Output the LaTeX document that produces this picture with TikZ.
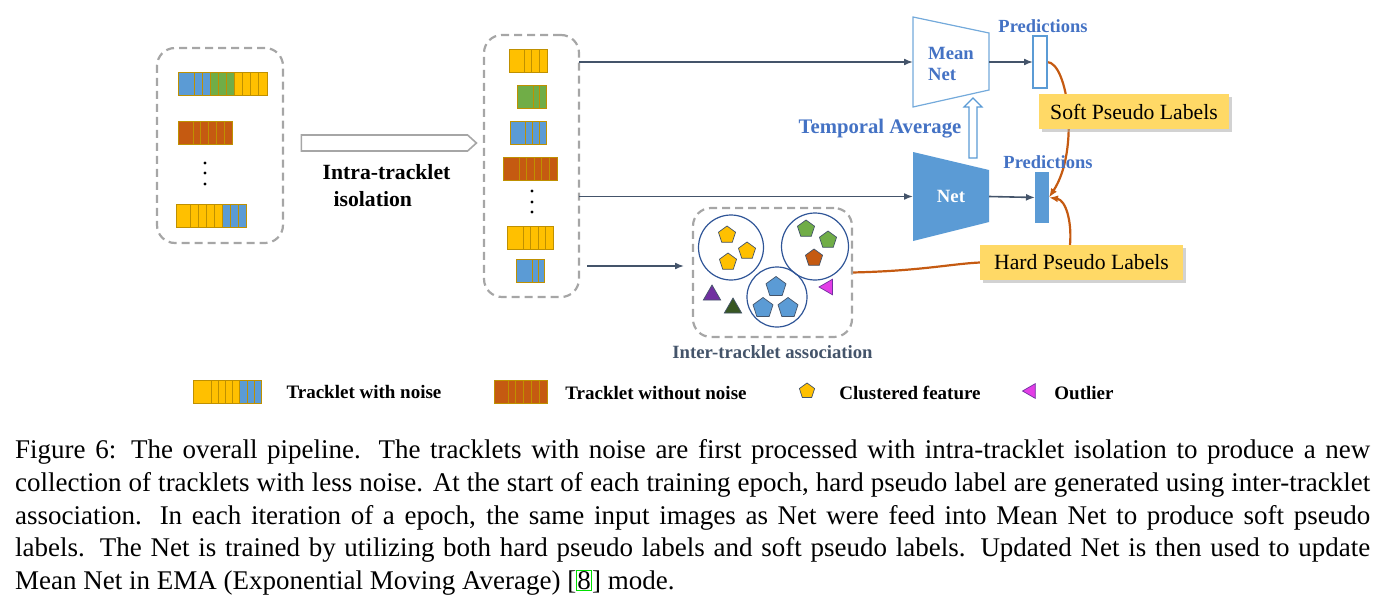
\documentclass[tikz,border=0pt]{standalone}
\usepackage{fontspec}
\setmainfont{Liberation Serif}
\usepackage{xcolor}
\usepackage{tikz}
\usetikzlibrary{positioning, arrows.meta, backgrounds, shadows, shapes.geometric, shapes.arrows}

\definecolor{grayline}{HTML}{A6A6A6}
\definecolor{slate}{HTML}{44546A}
\definecolor{nblue}{HTML}{5B9BD5}
\definecolor{tblue}{HTML}{4472C4}
\definecolor{dblue}{HTML}{2F5597}
\definecolor{corange}{HTML}{C55A11}
\definecolor{cy}{HTML}{FFC000}
\definecolor{cg}{HTML}{70AD47}
\definecolor{cb}{HTML}{5B9BD5}
\definecolor{co}{HTML}{C55A11}
\definecolor{celledge}{HTML}{BF9000}
\definecolor{lblfill}{HTML}{FFD966}
\definecolor{cpurple}{HTML}{7030A0}
\definecolor{cdgreen}{HTML}{385723}
\definecolor{cmagenta}{HTML}{E33DE6}
\definecolor{linkgreen}{HTML}{00E000}

\begin{document}
\begin{tikzpicture}[
    x=1pt, y=-1pt,
    >={Latex[length=9pt, width=7pt]},
    setbox/.style={
        rectangle,
        draw=grayline,
        line width=2.2pt,
        dash pattern=on 8pt off 5pt,
        rounded corners=18pt,
        inner sep=0pt, outer sep=0pt
    },
    cell/.style={draw=celledge, line width=0.8pt},
    flowline/.style={->, line width=1.6pt, slate},
    lblline/.style={line width=2.2pt, corange},
    netbox/.style={minimum width=76pt, inner sep=0pt, outer sep=0pt, align=left,
        font=\fontsize{18.7}{21}\selectfont\bfseries},
    predbox/.style={rectangle, minimum width=14pt, inner sep=0pt, outer sep=0pt, line width=1.2pt},
    bluetext/.style={text=tblue, font=\fontsize{18.5}{21}\selectfont\bfseries},
    labelbox/.style={
        rectangle,
        fill=lblfill,
        minimum height=35pt,
        font=\fontsize{21.7}{26}\selectfont,
        drop shadow={shadow xshift=3pt, shadow yshift=-3pt, fill=black!35}
    },
    clusterring/.style={circle, draw=dblue, line width=1.2pt, inner sep=0pt},
    feat/.style={regular polygon, regular polygon sides=5, minimum size=18pt, inner sep=0pt,
        draw=slate, line width=0.7pt},
    tri/.style={regular polygon, regular polygon sides=3, minimum size=20pt, inner sep=0pt,
        draw=slate, line width=0.7pt},
    legtext/.style={font=\fontsize{19}{22}\selectfont\bfseries},
    captext/.style={anchor=base west, inner sep=0pt, font=\fontsize{27}{33}\selectfont}
]
    \useasboundingbox (0,0) rectangle (1381,602);

    % Tracklet sets
    \node[setbox, minimum width=126pt, minimum height=195pt] (rawset) at (220,145.5) {};
    \node[setbox, minimum width=95pt, minimum height=262pt] (cleanset) at (531.5,166) {};

    \foreach \xo/\yo/\ww/\tw/\cols in {
        178/72/16/8.1/{cb,cb,cb,cg,cg,cg,cy,cy,cy,cy},
        178/121/15/7.8/{co,co,co,co,co,co},
        176/204/14/8/{cy,cy,cy,cy,cy,cb,cb,cb},
        509/49/15/7.7/{cy,cy,cy,cy},
        517/85/16/6.5/{cg,cg,cg},
        510/121/15/7/{cb,cb,cb,cb},
        503/157/16/7.6/{co,co,co,co,co,co},
        507/226/16/7.5/{cy,cy,cy,cy,cy},
        516/259/16/6/{cb,cb,cb},
        193/380/18/7.2/{cy,cy,cy,cy,cy,cb,cb,cb},
        494/380/14/7.8/{co,co,co,co,co,co}}{
        \foreach \c [count=\i from 0] in \cols {
            \pgfmathsetmacro{\xl}{\i==0 ? \xo : \xo+\ww+(\i-1)*\tw}
            \pgfmathsetmacro{\xr}{\i==0 ? \xo+\ww : \xo+\ww+\i*\tw}
            \filldraw[cell, fill=\c] (\xl,\yo) rectangle (\xr,\yo+23);
        }
    }
    \foreach \yy in {163,173,184} \fill (205,\yy) circle (1.6pt);
    \foreach \yy in {191,202,212} \fill (532,\yy) circle (1.6pt);

    % Isolation
    \node[single arrow, draw=grayline, line width=1.6pt, minimum height=175pt, minimum width=16pt,
        single arrow head extend=0pt, single arrow tip angle=84, inner sep=0pt] (isoarrow) at (384.5,143) {};
    \node[align=left, font=\fontsize{21.7}{27}\selectfont\bfseries, below=9pt of isoarrow, xshift=2pt]
        (isolabel) {Intra-tracklet\\\hspace*{11pt}isolation};

    % Networks
    \node[netbox, minimum height=90pt, text=tblue] (meannet) at (951,64) {Mean\\Net};
    \node[netbox, minimum height=89pt, text=white] (net) at (951,196.5) {Net};
    \begin{scope}[on background layer]
        \draw[line width=1.2pt, nblue!85, fill=white] ([yshift=2pt]meannet.north west) -- ([yshift=-14pt]meannet.north east)
            -- ([yshift=19pt]meannet.south east) -- ([yshift=2pt]meannet.south west) -- cycle;
        \fill[nblue] (net.north west) -- ([yshift=-18pt]net.north east)
            -- ([yshift=19pt]net.south east) -- (net.south west) -- cycle;
    \end{scope}
    % Temporal average
    \coordinate (tempavg) at (973,128);
    \draw[line width=1.2pt, nblue, fill=white] (tempavg) ++(-4,30) -- ++(8,0) -- ++(0,-51) -- ++(5,0)
        -- ++(-9,-9) -- ++(-9,9) -- ++(5,0) -- cycle;
    \node[bluetext, font=\fontsize{20.7}{24}\selectfont\bfseries] (tempavglbl) at (880,129) {Temporal Average};

    % Predictions
    \node[predbox, draw=nblue, fill=white, minimum height=52pt] (predmean) at (1040,62) {};
    \node[predbox, fill=nblue, minimum height=51pt] (prednet) at (1042,197.5) {};
    \node[bluetext, above=0pt of predmean, xshift=3pt] (predmeanlbl) {Predictions};
    \node[bluetext, above=0pt of prednet, xshift=6pt] (prednetlbl) {Predictions};

    % Pseudo labels
    \node[labelbox, minimum width=190pt] (softlbl) at (1134,111.5) {Soft Pseudo Labels};
    \node[labelbox, minimum width=203pt] (hardlbl) at (1081.5,262.5) {Hard Pseudo Labels};

    % Association
    \node[setbox, minimum width=159pt, minimum height=129pt] (assoc) at (772.5,272.5) {};
    \node[clusterring, minimum size=65pt] (clu1) at (731,247.5) {};
    \node[clusterring, minimum size=67pt] (clu2) at (815,246.5) {};
    \node[clusterring, minimum size=60pt] (clu3) at (777,297) {};
    \foreach \xx/\yy/\c/\nm in {727/235/cy/fy1, 747/251/cy/fy2, 728/262/cy/fy3,
        806/229/cg/fg1, 828/240/cg/fg2, 814/258/co/fo1}
        \node[feat, fill=\c] (\nm) at (\xx,\yy) {};
    \foreach \xx/\yy/\nm in {776/287/fb1, 763/308/fb2, 788/308/fb3}
        \node[feat, fill=cb, minimum size=21pt] (\nm) at (\xx,\yy) {};
    \node[tri, fill=cpurple] (tripurple) at (712,295) {};
    \node[tri, fill=cdgreen] (trigreen) at (733,308) {};
    \node[tri, fill=cmagenta, draw=cpurple, shape border rotate=90, minimum size=18pt] (outlier) at (828,287) {};
    \node[font=\fontsize{18.7}{22}\selectfont\bfseries, text=slate, below=5pt of assoc] (assoclbl)
        {Inter-tracklet association};

    % Arrows
    \draw[flowline] (cleanset.east |- predmean.west) -- (meannet.west |- predmean.west);
    \draw[flowline] (cleanset.east |- net.west) -- (net.west);
    \coordinate (associn) at (684,266);
    \draw[flowline] (cleanset.east |- associn) ++(8,0) -- (associn);
    \draw[flowline] (meannet.east |- predmean.west) -- (predmean.west);
    \draw[flowline] (net.east) -- (prednet.west);

    \begin{scope}[on background layer]
        \draw[lblline, ->] (predmean.east) .. controls (1068,62) and (1080,150) .. (prednet.east);
        \draw[lblline, ->] ([xshift=-11.5pt]hardlbl.north) .. controls (1072,222) and (1066,200) .. (prednet.east);
        \draw[lblline] (assoc.east) .. controls (920,271) and (950,264) .. (hardlbl.west);
    \end{scope}

    % Legend
    \node[legtext] (legnoise) at (364,392) {Tracklet with noise};
    \node[legtext] (legclean) at (656,393) {Tracklet without noise};
    \node[feat, fill=cy, minimum size=16pt] (legfeat) at (807,391) {};
    \node[legtext] (legfeatlbl) at (910,393) {Clustered feature};
    \node[tri, fill=cmagenta, draw=cpurple, shape border rotate=90, minimum size=17pt] (legout) at (1031,391) {};
    \node[legtext] (legoutlbl) at (1084,393) {Outlier};

    % Caption
    \node[captext] (cap1) at (15,458) {\makebox[1355pt][s]{Figure 6: The overall pipeline. The tracklets with noise are first processed with intra-tracklet isolation to produce a new}};
    \node[captext] (cap2) at (15,491) {\makebox[1355pt][s]{collection of tracklets with less noise. At the start of each training epoch, hard pseudo label are generated using inter-tracklet}};
    \node[captext] (cap3) at (15,524) {\makebox[1355pt][s]{association. In each iteration of a epoch, the same input images as Net were feed into Mean Net to produce soft pseudo}};
    \node[captext] (cap4) at (15,556) {\makebox[1355pt][s]{labels. The Net is trained by utilizing both hard pseudo labels and soft pseudo labels. Updated Net is then used to update}};
    \node[captext] (cap5) at (15,589) {Mean Net in EMA (Exponential Moving Average) [{\fboxsep=0.4pt\fboxrule=0.8pt\fcolorbox{linkgreen}{white}{8}}] mode.};
\end{tikzpicture}
\end{document}
